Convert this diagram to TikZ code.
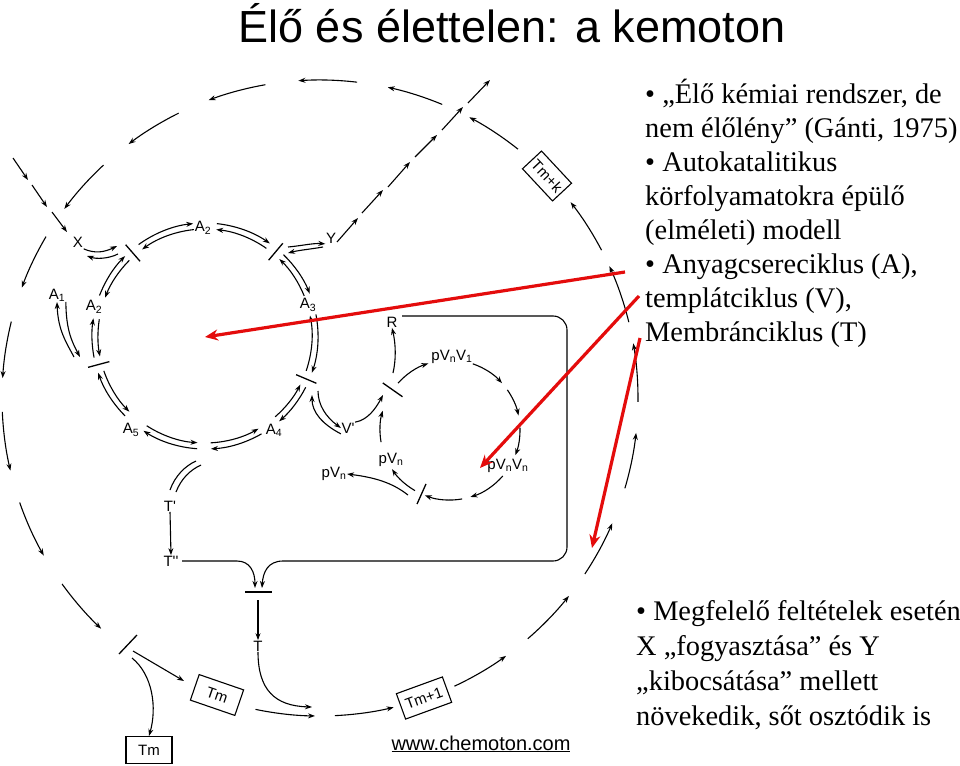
\documentclass[tikz,border=0pt]{standalone}
\usepackage{fontspec}
\setmainfont{Liberation Serif}
\newfontfamily\arial{Liberation Sans}
\usetikzlibrary{arrows.meta}
\definecolor{rd}{RGB}{228,12,12}
\begin{document}
\begin{tikzpicture}[x=1pt,y=-1pt,
  arr/.style={line width=1.1pt,-{Stealth[length=7pt,width=5pt]}},
  plain/.style={line width=1.1pt},
  barl/.style={line width=1.3pt},
  lbl/.style={font=\arial\fontsize{15}{15}\selectfont, inner sep=0.5pt},
  tbox/.style={draw, line width=1.1pt, minimum width=46pt, minimum height=27pt, inner sep=0pt, font=\arial\fontsize{15}{15}\selectfont},
  redarr/.style={draw=rd, line width=3.2pt, -{Stealth[length=13pt,width=11pt]}},
  txt/.style={anchor=base west, inner sep=0pt, font=\fontsize{28.4}{34}\selectfont}
]
\useasboundingbox (0,0) rectangle (960,765);
\fill[white] (0,0) rectangle (960,765);

% title
\node[anchor=base, inner sep=0, font=\arial\fontsize{45}{45}\selectfont] (title) at (512,43) {Élő és élettelen: a kemoton};

% outer (membrane growth) circle
\coordinate (O) at (320,398);
\foreach \a/\b in {-51.5/-62, -67.4/-77.7, -83.3/-93.9, -99.9/-110.5, -116.4/-127, -132.9/-143.5, -149.5/-159.7, -166.1/-176.4, 177.5/166.8, 160.8/150.3, 144.2/133.5, 101.7/90.9, 87.3/76.6, 65/54.2, 49.2/38.5, 33.6/23.2, 16.5/6.3, 0.7/-9.9, -13.8/-24.5, -27.7/-38}
  \draw[arr] ([shift={(\a:318)}]O) arc (\a:\b:318);

\node[tbox, rotate=-47, minimum width=44pt, minimum height=26pt] (tmk) at (547,176) {Tm+k};
\node[tbox, rotate=-19, minimum width=47pt] (tm1) at (217,695) {Tm};
\node[tbox, rotate=20, minimum width=49pt] (tmp1) at (424,698) {Tm+1};
\node[tbox] (tm0) at (149,750) {Tm};

% outer division bar
\coordinate (ob1) at (119,654);
\coordinate (ob2) at (137,635);
\draw[barl] (ob1) -- (ob2);
\coordinate (obA) at (133,651);
\coordinate (obB) at (184,681);
\draw[arr] (obA) -- (obB);
\coordinate (obC) at (132,658);
\draw[arr] (obC) .. controls (153,675) and (157,708) .. (tm0.north);

% X inflow dashes
\foreach \p/\q in {{(13,158)}/{(28,180)}, {(32,185)}/{(47,207)}, {(52,212)}/{(67,232)}}
  \draw[arr] \p -- \q;
% Y outflow dashes
\foreach \p/\q in {{(337,242)}/{(358,218)}, {(362,213)}/{(383,190)}, {(388,187)}/{(410,162)}, {(415,157)}/{(437,135)}, {(442,130)}/{(463,107)}, {(468,103)}/{(490,80)}}
  \draw[arr] \p -- \q;

% metabolic A-cycle
\coordinate (AC) at (205,336);
\foreach \a/\b in {-126/-96, -84/-55, -46/-22, -11/19, 27/49, 60/87, 94/123, 135/161, 169/189, 201/225}{
  \draw[arr] ([shift={(\a:113)}]AC) arc (\a:\b:113);
  \draw[arr] ([shift={(\b:107)}]AC) arc (\b:\a:107);
}
\foreach \t in {-131,-50,23,165}
  \draw[barl] ([shift={(\t:99)}]AC) -- ([shift={(\t:121)}]AC);

\node[lbl] (X) at (78,242) {X};
\node[lbl] (Y) at (331,238) {Y};
\node[lbl] (A1) at (57,295) {A\textsubscript{1}};
\node[lbl] (A2l) at (94,307) {A\textsubscript{2}};
\node[lbl] (A2t) at (203,228) {A\textsubscript{2}};
\node[lbl] (A3) at (308,305) {A\textsubscript{3}};
\node[lbl] (A4) at (274,430) {A\textsubscript{4}};
\node[lbl] (A5) at (131,430) {A\textsubscript{5}};

\draw[arr] (X.south east) ++(0,1) .. controls (95,254) and (105,252) .. (117,246);
\draw[arr] (118,254) .. controls (108,259) and (96,259) .. (87,256);
\draw[arr] (288,247) .. controls (300,246) and (313,243) .. (Y.south west);
\draw[arr] (323,247) .. controls (312,249) and (300,250) .. (288,253);
\draw[arr] (74,357) .. controls (66,342) and (58,330) .. (A1.south);
\draw[arr] (A1.south east) .. controls (66,330) and (72,342) .. (80,357);

% template V-cycle
\node[lbl] (R) at (392,322) {R};
\node[lbl] (pvv1) at (452,357) {pV\textsubscript{n}V\textsubscript{1}};
\node[lbl] (pvvn) at (508,466) {pV\textsubscript{n}V\textsubscript{n}};
\node[lbl] (pvni) at (391,460) {pV\textsubscript{n}};
\node[lbl] (pvno) at (334,474) {pV\textsubscript{n}};
\node[lbl] (Vp) at (348,428) {V'};
\draw[arr] (318,391) .. controls (318,405) and (326,417) .. (Vp.west);
\draw[arr] (Vp.south west) .. controls (322,424) and (312,412) .. (312,395);

\coordinate (VC) at (450,430);
\foreach \a/\b in {-138/-108, -71/-42, -35/-12, -2/21, 41/73, 80/111, 120/146, 170/196}
  \draw[arr] ([shift={(\a:70)}]VC) arc (\a:\b:70);
\draw[barl] ([shift={(215:58)}]VC) -- ([shift={(215:82)}]VC);
\draw[barl] ([shift={(114:59)}]VC) -- ([shift={(114:81)}]VC);
\draw[arr] (393,373) .. controls (396,360) and (396,345) .. (R.south);
\draw[arr] (Vp.north east) .. controls (368,420) and (376,408) .. (383,395);
\draw[arr] (408,495) .. controls (395,485) and (380,478) .. (pvno.east);

% membrane T-cycle
\node[lbl] (Tp) at (170,506) {T'};
\node[lbl] (Tpp) at (171,561) {T''};
\node[lbl] (T) at (258,646) {T};
\draw[plain] (170,490) .. controls (175,476) and (185,466) .. (196,461);
\draw[plain] (176,492) .. controls (181,479) and (190,470) .. (201,465);
\draw[arr] (Tp.south) -- (Tpp.north);
\draw[arr] (R.east) ++(4,-6) -- (553,316) arc (-90:0:14) -- (567,547) arc (0:90:14) -- (283,561) .. controls (268,561) and (263,572) .. (262,588);
\draw[arr] (Tpp.east) ++(3,0) -- (237,561) .. controls (250,561) and (255,572) .. (255,588);
\coordinate (tb1) at (245,592);
\coordinate (tb2) at (272,592);
\draw[barl] (tb1) -- (tb2);
\draw[arr] (258,600) -- (T.north);
\draw[arr] (T.south) .. controls (258,690) and (275,706) .. (312,707);

% red pointers
\coordinate (r1s) at (625,272);
\coordinate (r1e) at (205,337);
\coordinate (r2s) at (639,296);
\coordinate (r2e) at (480,468);
\coordinate (r3s) at (640,338);
\coordinate (r3e) at (592,548);
\draw[redarr] (r1s) -- (r1e);
\draw[redarr] (r2s) -- (r2e);
\draw[redarr] (r3s) -- (r3e);

% web address
\node[anchor=base, inner sep=0, font=\arial\fontsize{20}{20}\selectfont] (www) at (481,750) {\underline{www.chemoton.com}};

% right text
\node[txt] (t1) at (645,103) {• „Élő kémiai rendszer, de};
\node[txt] (t2) at (645,137) {nem élőlény” (Gánti, 1975)};
\node[txt] (t3) at (645,171) {• Autokatalitikus};
\node[txt] (t4) at (645,205) {körfolyamatokra épülő};
\node[txt] (t5) at (645,239) {(elméleti) modell};
\node[txt] (t6) at (645,273) {• Anyagcsereciklus (A),};
\node[txt] (t7) at (645,307) {templátciklus (V),};
\node[txt] (t8) at (645,341) {Membránciklus (T)};

\node[txt] (b1) at (636,620) {• Megfelelő feltételek esetén};
\node[txt] (b2) at (636,655) {X „fogyasztása” és Y};
\node[txt] (b3) at (636,690) {„kibocsátása” mellett};
\node[txt] (b4) at (636,725) {növekedik, sőt osztódik is};
\end{tikzpicture}
\end{document}
